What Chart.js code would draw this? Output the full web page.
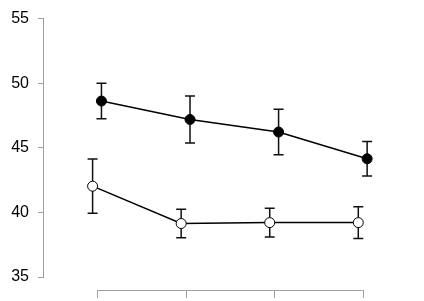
<!DOCTYPE html>
<html>
<head>
<meta charset="utf-8">
<script src="https://cdn.jsdelivr.net/npm/chart.js@4"></script>
<style>
  html, body { margin: 0; padding: 0; background: #fff; }
  #chart { display: block; }
</style>
</head>
<body>
<canvas id="chart" width="424" height="301"></canvas>
<script>
const categories = [1, 2, 3, 4];
const yTicks = [35, 40, 45, 50, 55];

// filled circles
const filledMean = [48.62, 47.19, 46.22, 44.15];
const filledErr = [1.37, 1.82, 1.76, 1.33];

// open circles
const openMean = [42.03, 39.14, 39.21, 39.21];
const openErr = [2.1, 1.1, 1.12, 1.23];

const dodge = 0.05;

function toPoints(means, shift) {
  return means.map((m, i) => ({ x: categories[i] + shift, y: m }));
}

const errors = [filledErr, openErr];

// error bars, drawn under the points
const errorBars = {
  id: "errorBars",
  beforeDatasetsDraw(chart) {
    const ctx = chart.ctx;
    const y = chart.scales.y;
    ctx.save();
    ctx.strokeStyle = "#111";
    ctx.lineWidth = 1.5;
    chart.data.datasets.forEach((ds, d) => {
      const meta = chart.getDatasetMeta(d);
      ds.data.forEach((p, i) => {
        const px = meta.data[i].x;
        const top = y.getPixelForValue(p.y + errors[d][i]);
        const bot = y.getPixelForValue(p.y - errors[d][i]);
        ctx.beginPath();
        ctx.moveTo(px, top);
        ctx.lineTo(px, bot);
        ctx.moveTo(px - 5, top);
        ctx.lineTo(px + 5, top);
        ctx.moveTo(px - 5, bot);
        ctx.lineTo(px + 5, bot);
        ctx.stroke();
      });
    });
    ctx.restore();
  },
};

// x axis drawn R-style: only between first and last category, below the plot
const bottomAxis = {
  id: "bottomAxis",
  afterDraw(chart) {
    const ctx = chart.ctx;
    const x = chart.scales.x;
    const yLine = 290;
    const first = x.getPixelForValue(categories[0]);
    const last = x.getPixelForValue(categories[categories.length - 1]);
    ctx.save();
    ctx.strokeStyle = "#a0a0a0";
    ctx.lineWidth = 1;
    ctx.beginPath();
    ctx.moveTo(first, yLine + 0.5);
    ctx.lineTo(last, yLine + 0.5);
    categories.forEach((c) => {
      const px = Math.round(x.getPixelForValue(c)) + 0.5;
      ctx.moveTo(px, yLine);
      ctx.lineTo(px, yLine + 8);
    });
    ctx.stroke();
    ctx.restore();
  },
};

const chart = new Chart(document.querySelector("#chart"), {
  type: "scatter",
  data: {
    datasets: [
      {
        data: toPoints(filledMean, dodge),
        showLine: true,
        borderColor: "#000",
        borderWidth: 1.5,
        pointBackgroundColor: "#000",
        pointBorderColor: "#000",
        pointBorderWidth: 1,
        pointRadius: 5,
      },
      {
        data: toPoints(openMean, -dodge),
        showLine: true,
        borderColor: "#000",
        borderWidth: 1.5,
        pointBackgroundColor: "#fff",
        pointBorderColor: "#000",
        pointBorderWidth: 1,
        pointRadius: 5,
      },
    ],
  },
  options: {
    responsive: false,
    animation: false,
    layout: { padding: { top: 14, right: 17, left: 0, bottom: 0 } },
    plugins: { legend: { display: false }, tooltip: { enabled: false } },
    scales: {
      x: {
        type: "linear",
        min: 0.39,
        max: 4.5,
        grid: { display: false },
        border: { display: false },
        ticks: { display: false },
        afterFit(scale) {
          scale.height = 24;
        },
      },
      y: {
        min: 35,
        max: 55,
        afterBuildTicks(scale) {
          scale.ticks = yTicks.map((v) => ({ value: v }));
        },
        afterFit(scale) {
          scale.width = 43;
        },
        grid: {
          drawOnChartArea: false,
          drawTicks: true,
          tickLength: 5,
          color: "#a0a0a0",
        },
        border: { display: true, color: "#a0a0a0" },
        ticks: {
          color: "#000",
          padding: 9,
          font: { family: "Liberation Sans, Arial", size: 16 },
        },
      },
    },
  },
  plugins: [errorBars, bottomAxis],
});
</script>
</body>
</html>
